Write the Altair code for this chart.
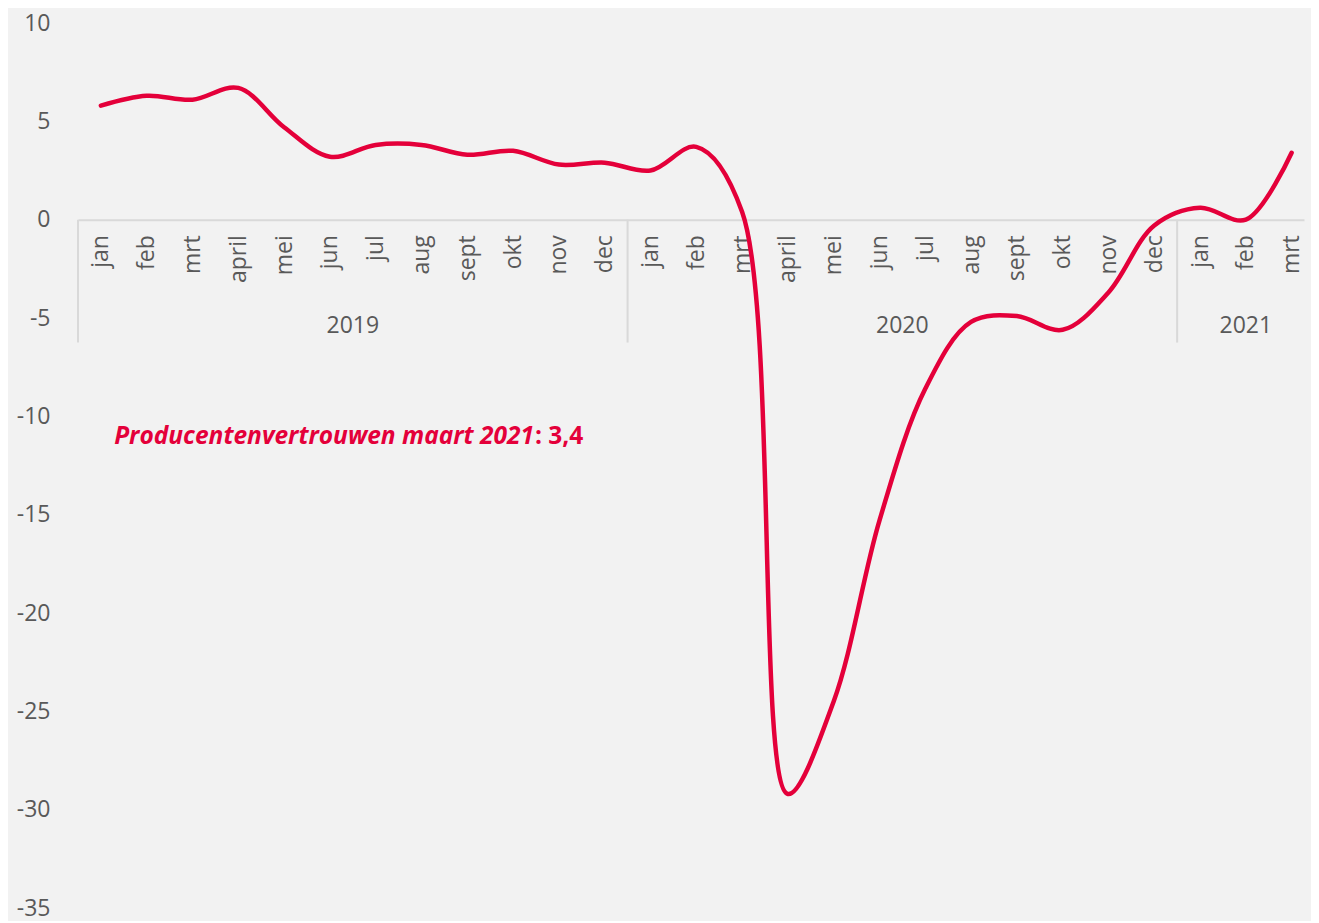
import altair as alt
import pandas as pd

# ---- data ----
months = ["jan", "feb", "mrt", "april", "mei", "jun", "jul", "aug", "sept", "okt", "nov", "dec",
          "jan", "feb", "mrt", "april", "mei", "jun", "jul", "aug", "sept", "okt", "nov", "dec",
          "jan", "feb", "mrt"]
years = ["2019", "2020", "2021"]
months_per_year = [12, 12, 3]
values = [5.8, 6.3, 6.1, 6.7, 4.7, 3.2, 3.8, 3.8, 3.3, 3.5, 2.8, 2.9,
          2.5, 3.7, 0.4, -29.2, -24.5, -15.3, -8.6, -5.2, -4.9, -5.6, -3.7, -0.3,
          0.6, 0.0, 3.4]
y_ticks = [-35, -30, -25, -20, -15, -10, -5, 0, 5, 10]

RED = "#e4003a"
GREY = "#595959"
LINEC = "#d9d9d9"
FONT = "Open Sans"
FS = 23

W, H = 1226, 885
YMIN, YMAX = -35, 10
XMIN, XMAX = -0.5, 26.27

df = pd.DataFrame({"i": list(range(len(months))), "v": values, "m": months})

# year bands
starts, centers = [], []
s = 0
for y, n in zip(years, months_per_year):
    starts.append(s - 0.5)
    centers.append(s + (n - 1) / 2)
    s += n
ydf = pd.DataFrame({"year": years, "c": centers, "lab_y": [-5.4] * len(years)})
sdf = pd.DataFrame({"s": starts, "top": [0] * len(starts), "bot": [-6.25] * len(starts)})

xscale = alt.Scale(domain=[XMIN, XMAX], nice=False, zero=False)
yscale = alt.Scale(domain=[YMIN, YMAX], nice=False, zero=False)

label_js = "[" + ",".join("'%s'" % m for m in months) + "][datum.value]"

line = alt.Chart(df).mark_line(
    color=RED, strokeWidth=4.5, interpolate="catmull-rom", strokeCap="round"
).encode(
    x=alt.X("i:Q", scale=xscale,
            axis=alt.Axis(values=list(range(len(months))), labelExpr=label_js,
                          labelAngle=270, labelAlign="right", labelBaseline="middle",
                          labelPadding=15, labelFontSize=FS, labelColor=GREY, labelFont=FONT,
                          ticks=False, grid=False, domainColor=LINEC, domainWidth=2,
                          title=None, offset=-(H * (0 - YMIN) / (YMAX - YMIN)),
                          labelFlush=False, labelOverlap=False)),
    y=alt.Y("v:Q", scale=yscale,
            axis=alt.Axis(values=y_ticks, labelExpr="'' + datum.value",
                          labelFontSize=FS, labelColor=GREY, labelFont=FONT,
                          labelPadding=28, ticks=False, grid=False, domain=False, title=None)),
)

seps = alt.Chart(sdf).mark_rule(color=LINEC, strokeWidth=2).encode(
    x=alt.X("s:Q", scale=xscale), y=alt.Y("top:Q", scale=yscale), y2="bot:Q"
)

yearlab = alt.Chart(ydf).mark_text(
    fontSize=FS, color=GREY, font=FONT, baseline="middle", align="center"
).encode(x=alt.X("c:Q", scale=xscale), y=alt.Y("lab_y:Q", scale=yscale), text="year:N")

ann1 = alt.Chart(pd.DataFrame({"t": ["Producentenvertrouwen maart 2021"]})).mark_text(
    fontSize=24.5, color=RED, font=FONT, fontWeight="bold", fontStyle="italic",
    align="right", baseline="middle"
).encode(x=alt.value(456), y=alt.value(414), text="t:N")

ann2 = alt.Chart(pd.DataFrame({"t": [": 3,4"]})).mark_text(
    fontSize=24.5, color=RED, font=FONT, fontWeight="bold",
    align="left", baseline="middle"
).encode(x=alt.value(457), y=alt.value(414), text="t:N")

chart = alt.layer(seps, yearlab, line, ann1, ann2).properties(
    width=W, height=H,
    autosize=alt.AutoSizeParams(type="none"),
    padding={"left": 70, "top": 15, "right": 7, "bottom": 13},
    background="#f2f2f2",
).configure_view(stroke=None, fill="#f2f2f2")

chart.save("out.html", embed_options={"renderer": "svg", "actions": False})
